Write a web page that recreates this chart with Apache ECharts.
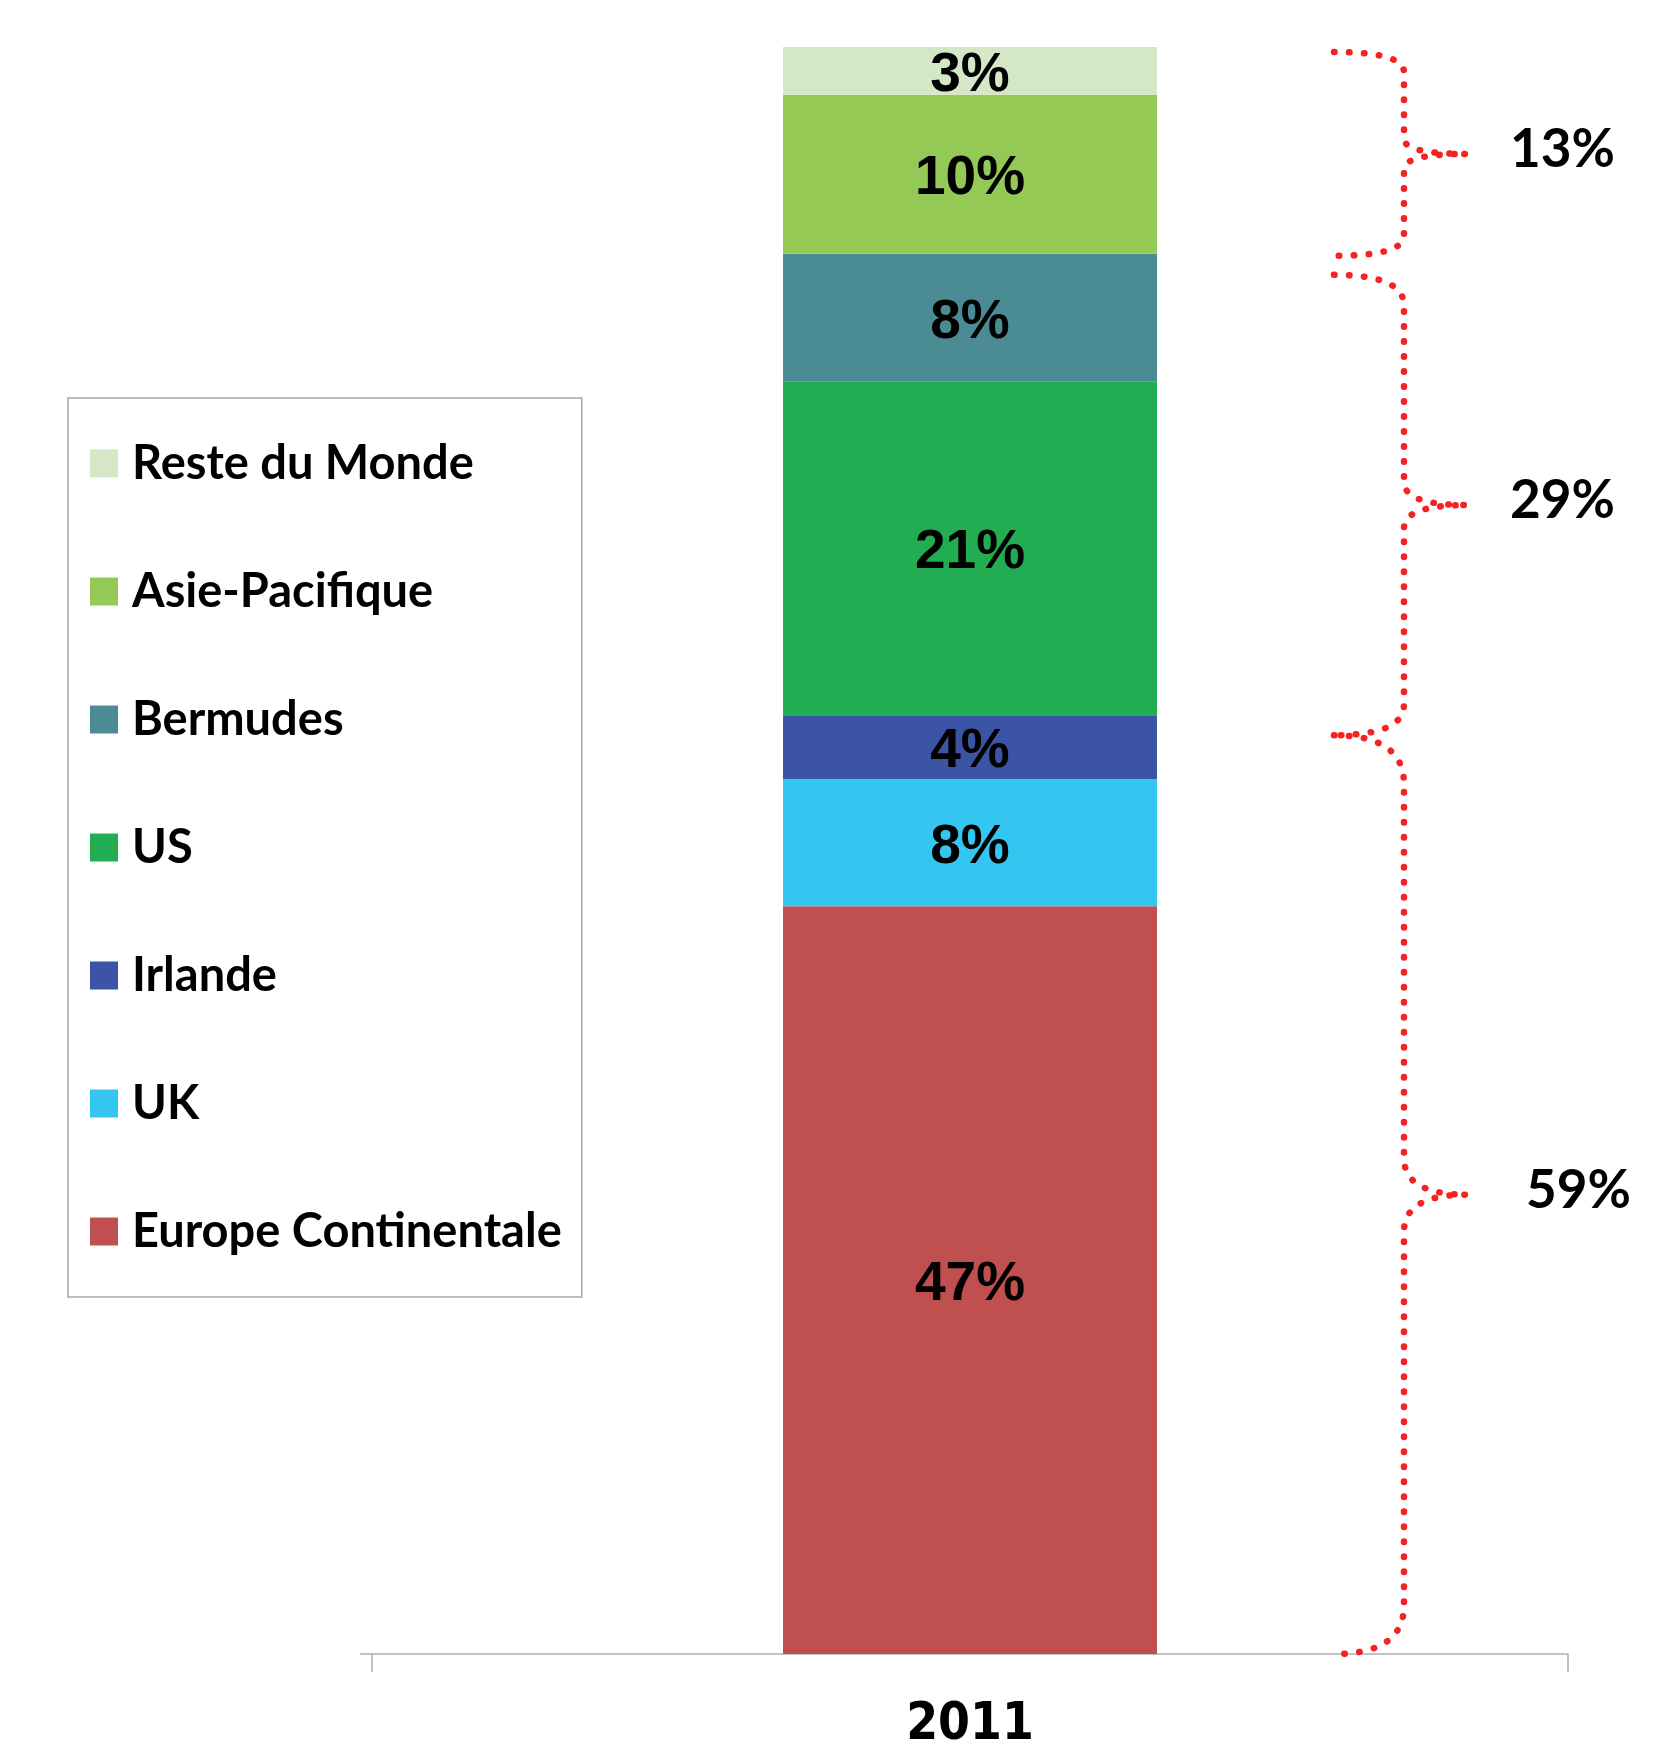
<!DOCTYPE html>
<html>
<head>
<meta charset="utf-8">
<script src="https://cdn.jsdelivr.net/npm/echarts@6/dist/echarts.min.js"></script>
<style>
  html, body { margin: 0; padding: 0; background: #fff; }
  #main { width: 1653px; height: 1752px; }
</style>
</head>
<body>
<div id="main"></div>
<script>
// répartition 2011, du bas vers le haut de la barre
var years = ['2011'];
var regions = ['Europe Continentale', 'UK', 'Irlande', 'US', 'Bermudes', 'Asie-Pacifique', 'Reste du Monde'];
var shares = [47, 8, 4, 21, 8, 10, 3];
var colors = ['#c0504f', '#35c5f1', '#3b54a3', '#23ad52', '#4a8b94', '#94c955', '#d4e8c8'];
// accolades : nombre de segments regroupés (du bas vers le haut)
var braceSizes = [3, 2, 2];

var chart = echarts.init(document.getElementById('main'));

var series = [];
for (var i = 0; i < regions.length; i++) {
  series.push({
    name: regions[i],
    type: 'bar',
    stack: 'total',
    barWidth: 374,
    data: [shares[i]],
    itemStyle: { color: colors[i] },
    label: {
      show: true,
      position: 'inside',
      offset: [0, 5],
      formatter: '{c}%',
      color: '#000',
      fontFamily: 'Liberation Sans',
      fontWeight: 'bold',
      fontSize: 55
    }
  });
}

var total = shares.reduce(function (a, b) { return a + b; }, 0);

var option = {
  animation: false,
  backgroundColor: '#fff',
  grid: { left: 372, right: 85, top: 47, bottom: 98 },
  legend: {
    orient: 'vertical',
    left: 68,
    top: 398,
    data: regions.slice().reverse(),
    icon: 'rect',
    itemWidth: 28,
    itemHeight: 28,
    itemGap: 81,
    padding: [42, 20, 42, 22],
    borderColor: '#a6a6a6',
    borderWidth: 1.5,
    selectedMode: false,
    textStyle: {
      fontFamily: 'Lato',
      fontWeight: 'bold',
      fontSize: 47,
      lineHeight: 44,
      color: '#000',
      padding: [0, 0, 0, 9]
    }
  },
  xAxis: {
    type: 'category',
    data: years,
    axisLine: { lineStyle: { color: '#b0b0b0', width: 1.5 } },
    axisTick: { show: true, length: 18, lineStyle: { color: '#b0b0b0', width: 1.5 } },
    axisLabel: {
      margin: 46,
      color: '#000',
      fontFamily: "'DejaVu Sans Condensed', 'Liberation Sans'",
      fontWeight: 'bold',
      fontSize: 51
    }
  },
  yAxis: { type: 'value', min: 0, max: total, show: false },
  series: series
};
chart.setOption(option);

// points d'une courbe quadratique
function quad(pts, p0, c, p1) {
  for (var t = 1; t <= 16; t++) {
    var s = t / 16;
    pts.push([
      (1 - s) * (1 - s) * p0[0] + 2 * (1 - s) * s * c[0] + s * s * p1[0],
      (1 - s) * (1 - s) * p0[1] + 2 * (1 - s) * s * c[1] + s * s * p1[1]
    ]);
  }
}

// accolades rouges pointillées, calées sur les cumuls de la barre
var graphics = [];
var cum = 0, idx = 0;
var xSpine = 1404, xLeft = 1334, xTip = 1467;
var padTop = [20, 21, 5], padBottom = [0, 20, 2];
var yAxisBottom = chart.convertToPixel({ yAxisIndex: 0 }, 0);
for (var b = 0; b < braceSizes.length; b++) {
  var sum = 0;
  for (var k = 0; k < braceSizes[b]; k++) { sum += shares[idx + k]; }
  var yBottom = chart.convertToPixel({ yAxisIndex: 0 }, cum);
  var yTop = chart.convertToPixel({ yAxisIndex: 0 }, cum + sum);
  cum += sum;
  idx += braceSizes[b];
  var y0 = yTop + padTop[b];
  var y1 = Math.min(yBottom + padBottom[b], yAxisBottom);
  var ym = (y0 + y1) / 2;
  var r = 12 + (y1 - y0) * 0.04;
  var rt = r * 0.75;
  var pts = [[xLeft, y0]];
  quad(pts, [xLeft, y0], [xSpine, y0], [xSpine, y0 + r]);
  pts.push([xSpine, ym - rt]);
  quad(pts, [xSpine, ym - rt], [xSpine, ym], [xTip, ym]);
  quad(pts, [xTip, ym], [xSpine, ym], [xSpine, ym + rt]);
  pts.push([xSpine, y1 - r]);
  quad(pts, [xSpine, y1 - r], [xSpine, y1], [xLeft, y1]);
  graphics.push({
    type: 'polyline',
    shape: { points: pts },
    style: {
      fill: null,
      stroke: '#f52222',
      lineWidth: 6.5,
      lineDash: [0.5, 14.5],
      lineCap: 'round',
      lineJoin: 'round'
    },
    z: 10
  });
  graphics.push({
    type: 'text',
    x: b === 0 ? 1526 : 1510,
    y: ym - 4,
    style: {
      text: sum + '%',
      fill: '#000',
      font: 'bold 53px Lato',
      verticalAlign: 'middle'
    },
    z: 10
  });
}
// prolongement de l'axe à gauche du premier tick
graphics.push({
  type: 'line',
  shape: { x1: 360, y1: yAxisBottom, x2: 372, y2: yAxisBottom },
  style: { stroke: '#b0b0b0', lineWidth: 1.5 }
});
chart.setOption({ graphic: graphics });
</script>
</body>
</html>
